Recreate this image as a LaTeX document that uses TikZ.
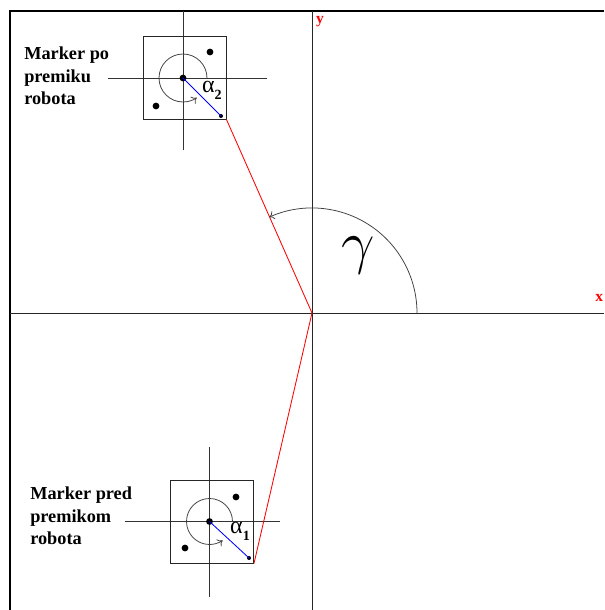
\documentclass[tikz,border=0pt]{standalone}
\usepackage{fontspec}
\setmainfont{Liberation Serif}
\usetikzlibrary{arrows.meta,positioning}

\tikzset{
  frameline/.style={black,line width=1.6pt},
  axisline/.style={black!85,line width=0.7pt},
  crossline/.style={black!80,line width=0.6pt},
  markerbox/.style={draw=black!85,line width=0.6pt,minimum size=2.075cm,inner sep=0},
  bigdot/.style={circle,fill=black,minimum size=0.17cm,inner sep=0},
  smalldot/.style={circle,fill=black,minimum size=0.1cm,inner sep=0},
  rotarc/.style={black!75,line width=0.55pt,-{To[length=3.5pt,width=6pt]}},
  markertext/.style={font=\fontsize{13}{16}\selectfont\bfseries,align=left,inner sep=0,anchor=north west},
  alphatext/.style={font=\fontsize{17}{17}\selectfont,inner sep=0},
  axistext/.style={red,font=\fontsize{11}{11}\selectfont\bfseries,inner sep=0}
}
\newcommand{\alphasub}[1]{α\raisebox{-0.3em}{\fontsize{10}{10}\selectfont\bfseries #1}}

\begin{document}
\begin{tikzpicture}[x=0.025cm,y=0.025cm]
    \useasboundingbox (0,0) rectangle (604,610);

    % Frame (only top and left edges visible)
    \draw[frameline] (10,0) -- (10,599) -- (604,599);

    % Coordinate axes
    \coordinate (O) at (312,297);
    \draw[axisline] (312,0) -- (312,599);
    \draw[axisline] (10,297) -- (604,297);
    \node[axistext] (ylab) at (320,588) {y};
    \node[axistext,anchor=east] (xlab) at (603.5,312) {x};

    % Marker after the move (top)
    \draw[crossline] (183,460) -- (183,599);
    \draw[crossline] (108,532) -- (267,532);
    \node[markerbox] (box2) at (184.5,532.5) {};
    \node[bigdot] (m2) at (183,532) {};
    \node[bigdot] (d2a) at (210,558) {};
    \node[bigdot] (d2b) at (156,504) {};
    \node[smalldot] (e2) at (221,494) {};
    \draw[blue,line width=0.6pt] (m2.center) -- (e2.center);
    \draw[rotarc] (m2.center) ++(24,0) arc[start angle=0,end angle=305,radius=24];
    \node[alphatext] (a2) at (212,520) {\alphasub{2}};
    \node[markertext] (t2) at (24,563) {Marker po\\premiku\\robota};

    % Marker before the move (bottom)
    \draw[crossline] (209.5,13) -- (209.5,163);
    \draw[crossline] (125,88.5) -- (280,88.5);
    \node[markerbox] (box1) at (212,88.3) {};
    \node[bigdot] (m1) at (209.5,88.5) {};
    \node[bigdot] (d1a) at (236,113) {};
    \node[bigdot] (d1b) at (185,62) {};
    \node[smalldot] (e1) at (249,52) {};
    \draw[blue,line width=0.6pt] (m1.center) -- (e1.center);
    \draw[rotarc] (m1.center) ++(23,0) arc[start angle=0,end angle=305,radius=23];
    \node[alphatext] (a1) at (240,79) {\alphasub{1}};
    \node[markertext] (t1) at (30,123) {Marker pred\\premikom\\robota};

    % Lines from the origin to the markers
    \draw[red,line width=0.6pt] (box2.south east) -- (O);
    \draw[red,line width=0.6pt] (box1.south east) -- (O);

    % Angle gamma
    \draw[rotarc] (O) ++(105,0) arc[start angle=0,end angle=114,radius=105];
    \node[font=\fontsize{24}{24}\selectfont,scale=1.7,inner sep=0] (g) at (358,355) {$\gamma$};
\end{tikzpicture}
\end{document}
